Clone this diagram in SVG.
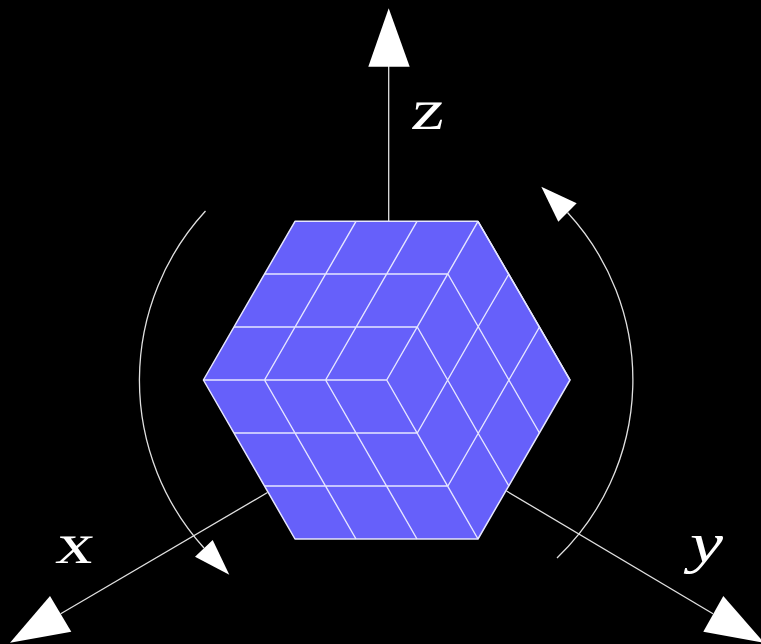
<svg xmlns="http://www.w3.org/2000/svg" width="761" height="644" viewBox="0 0 761 644">
<style>
.bg{fill:#000}
.face{fill:#6660fa;stroke:#e6e6ff;stroke-width:1.5;stroke-linejoin:round}
.grid{fill:none;stroke:#e6e6ff;stroke-width:1.4}
.axis{fill:none;stroke:#e0e0e0;stroke-width:1.3}
.head{fill:#fff;stroke:none}
.lbl{font-family:"Liberation Serif",serif;font-size:58px;fill:#fff}
</style>
<rect class="bg" width="761" height="644"/>
<g id="connectors">
<path id="axis-z" class="axis" d="M388.7 66 V221"/>
<polygon class="head" points="388.7,8.3 409.7,66.7 368.3,66.7"/>
<path id="axis-x" class="axis" d="M60.7 613.8 L267.5 492.5"/>
<polygon class="head" points="10,642.7 50,596 71.3,631.7"/>
<path id="axis-y" class="axis" d="M713 613.8 L506.5 491"/>
<polygon class="head" points="764,642.7 723.3,596 703.3,631.7"/>
<path id="arc-left" class="axis" d="M205.5 211 A250 250 0 0 0 204 548"/>
<polygon class="head" points="229.3,574.7 212.7,540 195,556.7"/>
<path id="arc-right" class="axis" d="M557 558 A247 247 0 0 0 567.5 212.5"/>
<polygon class="head" points="541.3,186.7 576.7,203.3 558.3,221.7"/>
</g>
<g id="cube">
<path class="face" d="M203.4 380 L295 221.3 H478 L570 380 L478 539 H295 Z"/>
<path class="grid" d="M234 327 H417.3 M264.5 274 H447.9 M203.4 380 H386.7 M234 433 H417.3 M264.5 486 H447.9
M264.5 380 L356 221.3 M325.6 380 L417 221.3 M386.7 380 L478 221.3
M264.5 380 L356 539 M325.6 380 L417 539 M386.7 380 L478 539
M417.3 327 L478 433 L508.9 486 M447.9 274 L508.9 380 L539.5 433 M478 221.3 L539.5 327 L570 380
M417.3 433 L478 327 L508.9 274 M447.9 486 L508.9 380 L539.5 327"/>
</g>
<g id="labels">
<text id="label-z" class="lbl" transform="translate(410 129) skewX(-7)" textLength="33" lengthAdjust="spacingAndGlyphs">z</text>
<text id="label-x" class="lbl" transform="translate(55 563) skewX(-7)" textLength="37" lengthAdjust="spacingAndGlyphs">x</text>
<text id="label-y" class="lbl" font-style="italic" x="690" y="562" textLength="33" lengthAdjust="spacingAndGlyphs">y</text>
</g>
</svg>
